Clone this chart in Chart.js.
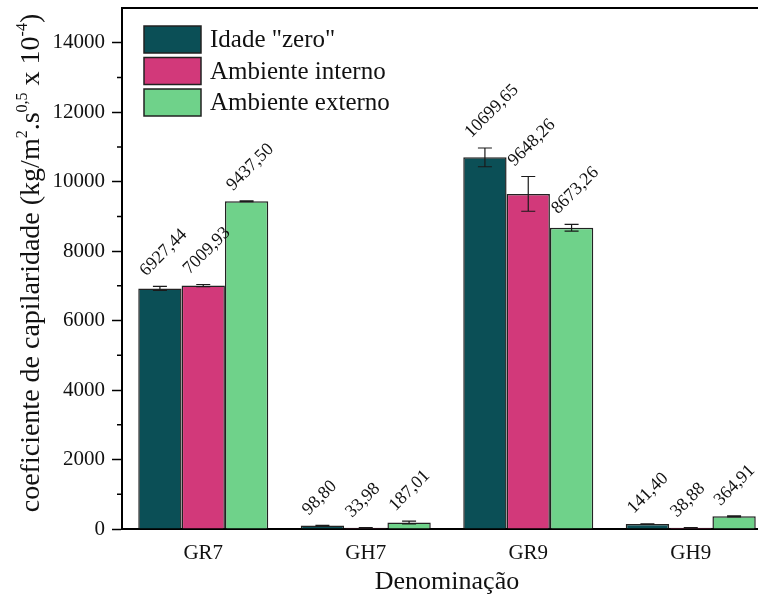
<!DOCTYPE html>
<html><head><meta charset="utf-8">
<script src="https://cdn.jsdelivr.net/npm/chart.js@4.4.1/dist/chart.umd.min.js"></script>
<style>
html,body{margin:0;padding:0;background:#fff;overflow:hidden;width:758px;height:605px}
#wrap{width:800px;height:605px}
</style></head>
<body><div id="wrap"><canvas id="c" width="800" height="605"></canvas></div>
<script>
const categories = ['GR7', 'GH7', 'GR9', 'GH9'];
const seriesNames = ['Idade "zero"', 'Ambiente interno', 'Ambiente externo'];
const idadeZero = [6927.44, 98.80, 10699.65, 141.40];
const ambienteInterno = [7009.93, 33.98, 9648.26, 38.88];
const ambienteExterno = [9437.50, 187.01, 8673.26, 364.91];
const erroZero = [60, 8, 270, 10];
const erroInterno = [30, 4, 500, 4];
const erroExterno = [10, 40, 100, 15];
const yTickValues = [0, 2000, 4000, 6000, 8000, 10000, 12000, 14000];
const seriesColors = ['#0b4f56', '#d2397a', '#6fd28a'];
const xTitle = 'Denominação';
// y-axis title parts: [text, isSuperscript]
const yTitleParts = [['coeficiente de capilaridade (kg/m', 0], ['2', 1], ['.s', 0], ['0,5', 1], [' x 10', 0], ['-4', 1], [')', 0]];

const SERIF = '"Liberation Serif", "Times New Roman", Times, serif';

const errorBars = {
  id: 'errorBars',
  afterDatasetsDraw(chart) {
    const ctx = chart.ctx, y = chart.scales.y;
    ctx.save();
    ctx.strokeStyle = '#1a1a1a';
    ctx.lineWidth = 1.2;
    chart.data.datasets.forEach((ds, i) => {
      chart.getDatasetMeta(i).data.forEach((el, j) => {
        const v = ds.data[j], e = ds.errors[j];
        const y1 = y.getPixelForValue(v + e), y2 = y.getPixelForValue(v - e);
        const x = el.x, w = 7;
        ctx.beginPath();
        ctx.moveTo(x, y1); ctx.lineTo(x, y2);
        ctx.moveTo(x - w, y1); ctx.lineTo(x + w, y1);
        ctx.moveTo(x - w, y2); ctx.lineTo(x + w, y2);
        ctx.stroke();
      });
    });
    ctx.restore();
  }
};

const valueLabels = {
  id: 'valueLabels',
  afterDatasetsDraw(chart) {
    const ctx = chart.ctx, y = chart.scales.y;
    ctx.save();
    ctx.fillStyle = '#111';
    ctx.font = '18px ' + SERIF;
    ctx.textAlign = 'left';
    ctx.textBaseline = 'middle';
    chart.data.datasets.forEach((ds, i) => {
      chart.getDatasetMeta(i).data.forEach((el, j) => {
        const v = ds.data[j], e = ds.errors[j];
        const top = y.getPixelForValue(v + e);
        const txt = v.toFixed(2).replace('.', ',');
        ctx.save();
        ctx.translate(el.x - 17, top - 13);
        ctx.rotate(-Math.PI / 4);
        ctx.fillText(txt, 0, 0);
        ctx.restore();
      });
    });
    ctx.restore();
  }
};

const frameAndExtras = {
  id: 'frameAndExtras',
  afterDraw(chart) {
    const ctx = chart.ctx, a = chart.chartArea, y = chart.scales.y;
    ctx.save();
    // top / right frame
    ctx.strokeStyle = '#000';
    ctx.lineWidth = 2;
    ctx.beginPath();
    ctx.moveTo(a.left - 1, a.top); ctx.lineTo(a.right, a.top);
    ctx.lineTo(a.right, a.bottom);
    ctx.stroke();
    // minor ticks
    const t = y.ticks;
    ctx.lineWidth = 1.5;
    ctx.beginPath();
    for (let k = 0; k < t.length - 1; k++) {
      const py = y.getPixelForValue((t[k].value + t[k + 1].value) / 2);
      ctx.moveTo(a.left - 5, py); ctx.lineTo(a.left, py);
    }
    ctx.stroke();
    // legend
    const bx = a.left + 22, by = a.top + 18, bw = 57, bh = 27, gap = 31.5;
    ctx.font = '25px ' + SERIF;
    ctx.textAlign = 'left';
    ctx.textBaseline = 'middle';
    chart.data.datasets.forEach((ds, i) => {
      const yy = by + i * gap;
      ctx.fillStyle = ds.backgroundColor;
      ctx.fillRect(bx, yy, bw, bh);
      ctx.lineWidth = 1.5;
      ctx.strokeStyle = '#222';
      ctx.strokeRect(bx, yy, bw, bh);
      ctx.fillStyle = '#111';
      ctx.fillText(ds.label, bx + bw + 9, yy + bh / 2 + 1);
    });
    // y-axis title with superscripts
    const big = '28px ' + SERIF, small = '16px ' + SERIF;
    let total = 0;
    yTitleParts.forEach(p => { ctx.font = p[1] ? small : big; total += ctx.measureText(p[0]).width; });
    ctx.translate(39, 263);
    ctx.rotate(-Math.PI / 2);
    ctx.textAlign = 'left';
    ctx.textBaseline = 'alphabetic';
    ctx.fillStyle = '#111';
    let x = -total / 2;
    yTitleParts.forEach(p => {
      ctx.font = p[1] ? small : big;
      ctx.fillText(p[0], x, p[1] ? -12 : 0);
      x += ctx.measureText(p[0]).width;
    });
    ctx.restore();
  }
};

const errorsBySeries = [erroZero, erroInterno, erroExterno];
const valuesBySeries = [idadeZero, ambienteInterno, ambienteExterno];

new Chart(document.getElementById('c'), {
  type: 'bar',
  data: {
    labels: categories,
    datasets: seriesNames.map((name, i) => ({
      label: name,
      data: valuesBySeries[i],
      errors: errorsBySeries[i],
      backgroundColor: seriesColors[i],
      borderColor: '#222',
      borderWidth: 1.5,
      categoryPercentage: 0.8,
      barPercentage: 1.0
    }))
  },
  options: {
    responsive: false,
    animation: false,
    devicePixelRatio: 1,
    layout: { padding: { top: 8, right: 28, left: 0, bottom: 0 } },
    plugins: { legend: { display: false }, tooltip: { enabled: false } },
    scales: {
      x: {
        grid: { display: false, drawTicks: false },
        border: { display: true, color: '#000', width: 2 },
        ticks: { color: '#111', font: { family: SERIF, size: 21 }, padding: 12 },
        title: { display: true, text: xTitle, color: '#111', font: { family: SERIF, size: 26 }, padding: { top: 0, bottom: 7 } },
        afterFit(s) { s.height = 76; s.paddingLeft = 0; s.paddingRight = 0; }
      },
      y: {
        min: 0, max: 15000,
        grid: { display: true, drawOnChartArea: false, drawTicks: true, tickLength: 10, tickColor: '#000', tickWidth: 1.5 },
        border: { display: true, color: '#000', width: 2 },
        ticks: { color: '#111', font: { family: SERIF, size: 21 }, padding: 7, callback: v => String(v) },
        afterBuildTicks(s) { s.ticks = yTickValues.map(v => ({ value: v })); },
        afterFit(s) { s.width = 122; s.paddingTop = 0; s.paddingBottom = 0; }
      }
    }
  },
  plugins: [errorBars, valueLabels, frameAndExtras]
});
</script>
</body></html>
